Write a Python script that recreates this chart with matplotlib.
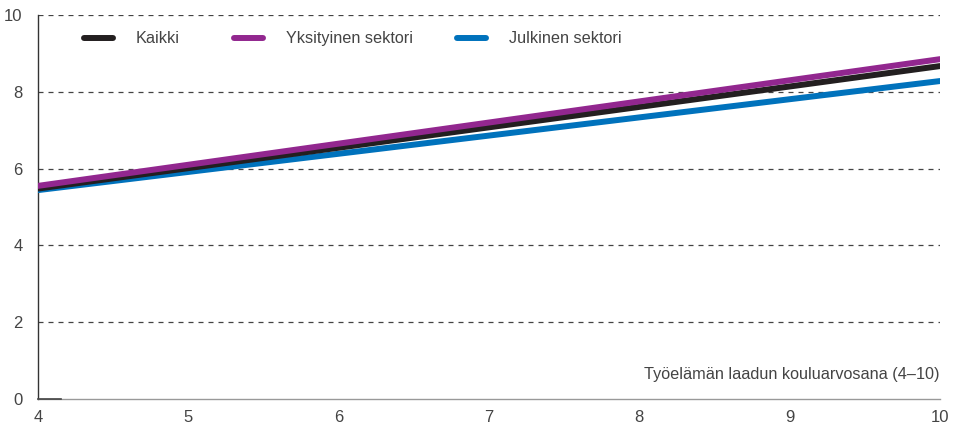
import matplotlib
matplotlib.use("Agg")
import matplotlib.pyplot as plt
from matplotlib.legend import Legend

# Kouluarvosana (x) ja ennustettu arvo (y) kolmelle ryhmälle
x_grade = [4, 10]
kaikki = [5.48, 8.67]
yksityinen = [5.55, 8.85]
julkinen = [5.44, 8.28]

series_names = ["Kaikki", "Yksityinen sektori", "Julkinen sektori"]
series_colors = ["#231f20", "#92278f", "#0072bc"]

x_ticks = [4, 5, 6, 7, 8, 9, 10]
y_ticks = [0, 2, 4, 6, 8, 10]
x_label = "Työelämän laadun kouluarvosana (4–10)"

plt.rcParams["font.family"] = ["Liberation Sans", "DejaVu Sans"]
TXT = "#444444"

fig = plt.figure(figsize=(9.54, 4.25), dpi=100)
W, H = 954, 425
ax = fig.add_axes([38 / W, 26 / H, (940 - 38) / W, (399 - 15) / H])

for yv in y_ticks[1:]:
    ax.axhline(yv, color="#444444", lw=0.9, ls=(0, (4, 4)), zorder=1)

data = [kaikki, yksityinen, julkinen]
order = [2, 0, 1]
handles = {}
for i in order:
    (ln,) = ax.plot(x_grade, data[i], color=series_colors[i], lw=4.3,
                    solid_capstyle="round", zorder=3 + order.index(i),
                    label=series_names[i])
    handles[i] = ln

ax.set_xlim(4, 10)
ax.set_ylim(0, 10)
ax.set_xticks(x_ticks)
ax.set_yticks(y_ticks)
ax.tick_params(length=0, labelsize=12, colors=TXT, pad=8)
ax.tick_params(axis="y", pad=11)

for s in ("top", "right"):
    ax.spines[s].set_visible(False)
ax.spines["left"].set_color("#333333")
ax.spines["left"].set_linewidth(1.0)
ax.spines["bottom"].set_color("#999999")
ax.spines["bottom"].set_linewidth(1.0)
ax.plot([4, 4.15], [0, 0], color="#444444", lw=1.2, clip_on=False, zorder=4)

ax.text(1.0, 0.045, x_label, transform=ax.transAxes, ha="right", va="bottom",
        fontsize=11.7, color=TXT)

# one legend per entry so the uneven spacing of the original can be kept
leg_x = [0.051, 0.217, 0.4645]
for i, lx in enumerate(leg_x):
    leg = Legend(ax, [handles[i]], [series_names[i]], loc="center left",
                 bbox_to_anchor=(lx, 0.938), frameon=False, borderpad=0,
                 borderaxespad=0, handlelength=1.8, handletextpad=1.4,
                 fontsize=11.7)
    leg.get_texts()[0].set_color(TXT)
    ax.add_artist(leg)

fig.savefig("out.png", dpi=100)
